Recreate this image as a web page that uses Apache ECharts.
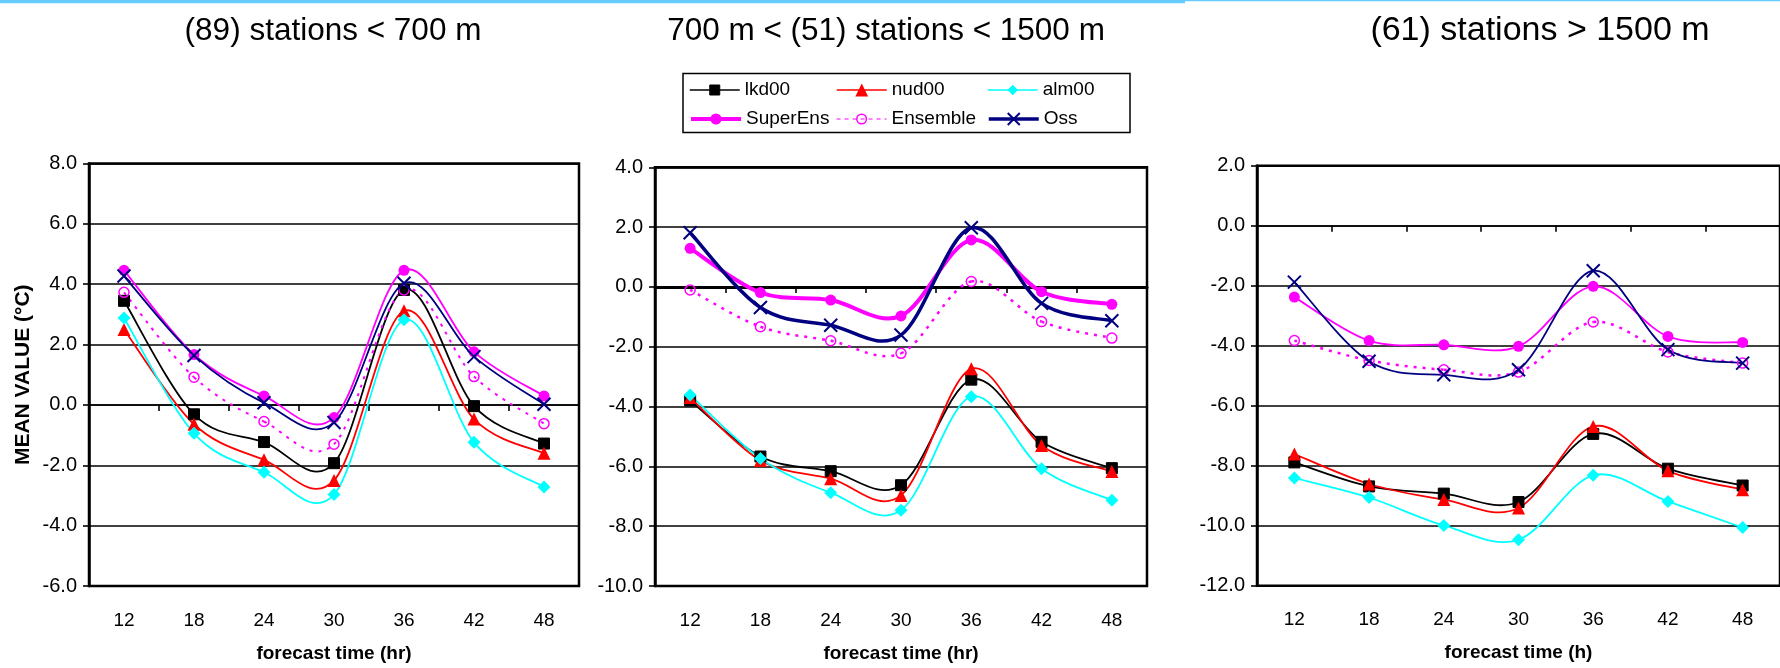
<!DOCTYPE html>
<html>
<head>
<meta charset="utf-8">
<title>Mean temperature by station elevation</title>
<script src="https://cdn.jsdelivr.net/npm/echarts@6.0.0/dist/echarts.min.js"></script>
<style>
  html, body { margin: 0; padding: 0; background: #ffffff; }
  #chart { width: 1780px; height: 668px; }
</style>
</head>
<body>
<div id="chart"></div>
<script>
// ---- data -------------------------------------------------------------
const hours = ['12', '18', '24', '30', '36', '42', '48'];
const seriesNames = ['lkd00', 'nud00', 'alm00', 'SuperEns', 'Ensemble', 'Oss'];
const panelTitles = ['(89) stations < 700 m', '700 m < (51) stations < 1500 m', '(61) stations > 1500 m'];
const xAxisTitles = ['forecast time (hr)', 'forecast time (hr)', 'forecast time (h)'];
const yAxisTitle = 'MEAN VALUE (\u00B0C)';
const yRanges = [[-6, 8], [-10, 4], [-12, 2]];

// stations below 700 m
const lowLkd   = [3.45, -0.31, -1.23, -1.93, 3.81, -0.04, -1.28];
const lowNud   = [2.50, -0.64, -1.82, -2.50, 3.12, -0.47, -1.60];
const lowAlm   = [2.88, -0.94, -2.23, -2.97, 2.82, -1.24, -2.72];
const lowSuper = [4.46, 1.67, 0.30, -0.42, 4.46, 1.76, 0.30];
const lowEns   = [3.73, 0.92, -0.55, -1.30, 3.81, 0.94, -0.62];
const lowOss   = [4.27, 1.64, 0.07, -0.58, 4.03, 1.60, 0.02];

// stations between 700 m and 1500 m
const midLkd   = [-3.80, -5.67, -6.16, -6.63, -3.10, -5.18, -6.06];
const midNud   = [-3.70, -5.80, -6.41, -6.97, -2.74, -5.30, -6.17];
const midAlm   = [-3.61, -5.74, -6.88, -7.47, -3.67, -6.08, -7.13];
const midSuper = [1.29, -0.19, -0.44, -0.97, 1.57, -0.16, -0.58];
const midEns   = [-0.10, -1.33, -1.80, -2.22, 0.18, -1.16, -1.71];
const midOss   = [1.81, -0.69, -1.28, -1.61, 1.98, -0.55, -1.13];

// stations above 1500 m
const highLkd   = [-7.89, -8.69, -8.93, -9.21, -6.94, -8.10, -8.66];
const highNud   = [-7.61, -8.61, -9.13, -9.41, -6.69, -8.17, -8.80];
const highAlm   = [-8.41, -9.06, -9.99, -10.47, -8.32, -9.19, -10.06];
const highSuper = [-2.38, -3.83, -3.97, -4.02, -2.02, -3.69, -3.89];
const highEns   = [-3.83, -4.49, -4.80, -4.88, -3.21, -4.21, -4.58];
const highOss   = [-1.88, -4.52, -4.97, -4.80, -1.50, -4.13, -4.58];

const panelValues = [
  [lowLkd, lowNud, lowAlm, lowSuper, lowEns, lowOss],
  [midLkd, midNud, midAlm, midSuper, midEns, midOss],
  [highLkd, highNud, highAlm, highSuper, highEns, highOss]
];

// ---- styling ----------------------------------------------------------
const FONT = '"Liberation Sans", Arial, Helvetica, sans-serif';
const X_MARK = 'path://M0,0L10,10M10,0L0,10';

const looks = {
  lkd00:    { color: '#000000', symbol: 'rect',     size: 11, item: { color: '#000000', borderColor: '#000000', borderWidth: 1 } },
  nud00:    { color: '#ff0000', symbol: 'triangle', size: 13, item: { color: '#ff0000', borderWidth: 0 } },
  alm00:    { color: '#00ffff', symbol: 'diamond',  size: 13, item: { color: '#00ffff', borderWidth: 0 } },
  SuperEns: { color: '#ff00ff', symbol: 'circle',   size: 11, item: { color: '#ff00ff', borderWidth: 0 } },
  Ensemble: { color: '#ff00ff', symbol: 'circle',   size: 10, item: { color: 'rgba(255,255,255,0)', borderColor: '#ff00ff', borderWidth: 1.5 } },
  Oss:      { color: '#000080', symbol: X_MARK,     size: 13, item: { color: '#000080', borderColor: '#000080', borderWidth: 2 } }
};
// stroke width of each curve in each panel
const curveWidth = {
  lkd00: [1.8, 1.8, 1.8], nud00: [1.8, 1.8, 1.8], alm00: [1.8, 1.8, 1.8],
  SuperEns: [1.8, 4, 1.8], Ensemble: [2, 2.5, 2.5], Oss: [1.8, 3.5, 1.8]
};
const curveDash = { Ensemble: [3, 6] };

const grids = [
  { left: 89, top: 163.5, width: 490, height: 424.5 },
  { left: 655, top: 167.3, width: 492, height: 420 },
  { left: 1257, top: 165.7, width: 539, height: 420 }
];

// ---- option assembly ---------------------------------------------------
const gridOpts = [], xAxes = [], yAxes = [], lineSeries = [], curveSeries = [];

// Smoothed (Catmull-Rom) curve through the data, drawn segment by segment.
function smoothCurve(name, values, g, color, width, dash) {
  const n = values.length;
  const at = (api, k) => {
    const j = Math.max(0, Math.min(n - 1, k));
    return api.coord([j, values[j]]);
  };
  return {
    type: 'custom', name: name, xAxisIndex: 2 * g, yAxisIndex: g,
    silent: true, z: 3, encode: { x: 0, y: 1 },
    data: values.map((v, i) => [i, v]),
    renderItem: function (params, api) {
      const i = params.dataIndex;
      if (i >= n - 1) return null;
      const p0 = at(api, i - 1), p1 = at(api, i), p2 = at(api, i + 1), p3 = at(api, i + 2);
      const k = 1 / 6;
      return {
        type: 'bezierCurve',
        shape: {
          x1: p1[0], y1: p1[1], x2: p2[0], y2: p2[1],
          cpx1: p1[0] + (p2[0] - p0[0]) * k, cpy1: p1[1] + (p2[1] - p0[1]) * k,
          cpx2: p2[0] - (p3[0] - p1[0]) * k, cpy2: p2[1] - (p3[1] - p1[1]) * k
        },
        style: { stroke: color, lineWidth: width, fill: 'none', lineDash: dash || null, lineCap: 'butt' }
      };
    }
  };
}

grids.forEach((rect, g) => {
  gridOpts.push(Object.assign({ show: true, borderColor: '#000', borderWidth: 2.5, backgroundColor: '#fff' }, rect));

  // category axis carrying the hour labels and the axis title
  xAxes.push({
    type: 'category', gridIndex: g, data: hours, position: 'bottom', boundaryGap: true,
    axisLine: { show: false, onZero: false }, axisTick: { show: false },
    axisLabel: { color: '#000', fontSize: 19, fontFamily: FONT, margin: 25 },
    splitLine: { show: false },
    name: xAxisTitles[g], nameLocation: 'middle', nameGap: 58,
    nameTextStyle: { color: '#000', fontSize: 19, fontWeight: 'bold', fontFamily: FONT }
  });
  // axis line crossing at zero with its tick marks
  xAxes.push({
    type: 'category', gridIndex: g, data: hours, position: 'bottom', boundaryGap: true,
    axisLine: { show: true, onZero: true, lineStyle: { color: '#000', width: g === 1 ? 3.2 : 1.6 } },
    axisTick: { show: true, inside: false, length: 6, alignWithLabel: false, lineStyle: { color: '#000', width: 1.6 } },
    axisLabel: { show: false }, splitLine: { show: false }
  });

  yAxes.push({
    type: 'value', gridIndex: g, position: 'left',
    min: yRanges[g][0], max: yRanges[g][1], interval: 2,
    axisLine: { show: true, onZero: false, lineStyle: { color: '#000', width: 2.5 } },
    axisTick: { show: true, inside: false, length: 6, lineStyle: { color: '#000', width: 1.6 } },
    axisLabel: { color: '#000', fontSize: 20, fontFamily: FONT, margin: 12, formatter: v => v.toFixed(1) },
    splitLine: { show: true, lineStyle: { color: '#000', width: 1.6 } },
    name: g === 0 ? yAxisTitle : '', nameLocation: 'middle', nameGap: 55,
    nameTextStyle: { color: '#000', fontSize: 21, fontWeight: 'bold', fontFamily: FONT }
  });

  seriesNames.forEach((name, s) => {
    const look = looks[name];
    const values = panelValues[g][s];
    lineSeries.push({
      type: 'line', name: name, xAxisIndex: 2 * g, yAxisIndex: g,
      data: values, symbol: look.symbol, symbolSize: look.size, showSymbol: true,
      lineStyle: { color: look.color, opacity: 0 }, itemStyle: look.item,
      z: 5, silent: true, animation: false
    });
    curveSeries.push(smoothCurve(name, values, g, look.color, curveWidth[name][g], curveDash[name]));
  });
});

// legend: two rows of three, each entry placed on its own column
const legendSpots = [[689, 80.5], [836, 80.5], [987, 80.5], [689, 109.5], [836, 109.5], [987, 109.5]];
const legendLines = {
  lkd00:    { width: 1.5, type: 'solid' },
  nud00:    { width: 1.5, type: 'solid' },
  alm00:    { width: 1.5, type: 'solid' },
  SuperEns: { width: 4, type: 'solid' },
  Ensemble: { width: 1.2, type: [4, 4] },
  Oss:      { width: 3.5, type: 'solid' }
};
const legendIconHeight = { lkd00: 12.5, nud00: 16, alm00: 13, SuperEns: 14, Ensemble: 12, Oss: 15 };
const legends = seriesNames.map((name, i) => ({
  data: [name], left: legendSpots[i][0], top: legendSpots[i][1], padding: 0,
  itemWidth: 50, itemHeight: legendIconHeight[name], itemGap: 0, selectedMode: false,
  textStyle: { color: '#000', fontSize: 19, fontFamily: FONT, padding: [0, 0, 0, 0] },
  lineStyle: Object.assign({ color: looks[name].color, opacity: 1 }, legendLines[name]),
  itemStyle: Object.assign({ borderColor: looks[name].color, borderWidth: 0, opacity: 1 }, looks[name].item)
}));

// panel headings: centre x and font size
const titleCenters = [333, 886, 1540];
const titleSizes = [31.5, 31.5, 34];
const graphics = [
  { type: 'rect', shape: { x: 0, y: 0, width: 1185, height: 3.3 }, style: { fill: '#66ccff' }, silent: true },
  { type: 'rect', shape: { x: 1185, y: 0, width: 595, height: 1.2 }, style: { fill: '#66ccff' }, silent: true },
  { type: 'rect', shape: { x: 683, y: 73.5, width: 447, height: 59 }, style: { fill: 'none', stroke: '#000', lineWidth: 1.5 }, silent: true }
].concat(panelTitles.map((t, i) => ({
  type: 'text', x: titleCenters[i], y: 31, silent: true,
  style: { text: t, font: titleSizes[i] + 'px ' + FONT, fill: '#000', align: 'center', verticalAlign: 'middle' }
})));

const chart = echarts.init(document.getElementById('chart'), null, { renderer: 'canvas' });
chart.setOption({
  backgroundColor: '#ffffff',
  animation: false,
  grid: gridOpts,
  xAxis: xAxes,
  yAxis: yAxes,
  legend: legends,
  graphic: graphics,
  series: lineSeries.concat(curveSeries)
});
</script>
</body>
</html>
